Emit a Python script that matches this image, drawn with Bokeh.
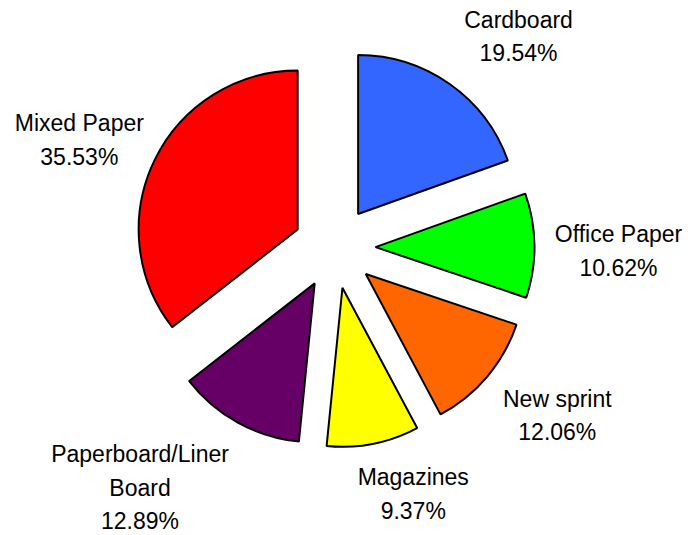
import math
from bokeh.plotting import figure
from bokeh.models import Range1d, ColumnDataSource
from bokeh.embed import file_html
from bokeh.resources import INLINE
from bokeh.core.properties import value

# ---- data ----
categories = ["Cardboard", "Office Paper", "New sprint", "Magazines",
              "Paperboard/Liner\nBoard", "Mixed Paper"]
shares = [19.54, 10.62, 12.06, 9.37, 12.89, 35.53]
colors = ["#3366FF", "#00FF00", "#FF6600", "#FFFF00", "#660066", "#FF0000"]

# ---- layout ----
W, H = 690, 535
CX, CY = 334, 535 - 247    # pie centre (data units = pixels)
R = 159                    # radius
EXPLODE = 41               # explosion distance
# label placement: distance from centre and angle (deg, clockwise from top)
label_dist = [280, 284, 279, 259, 309, 277]
label_ang = [41.1, 90.7, 127.0, 162.3, 219.0, 292.9]

total = sum(shares)
xs, ys, starts, ends = [], [], [], []
cum = 0.0
for s in shares:
    a0 = cum / total
    a1 = (cum + s) / total
    cum += s
    mid = (a0 + a1) / 2 * 2 * math.pi
    xs.append(CX + EXPLODE * math.sin(mid))
    ys.append(CY + EXPLODE * math.cos(mid))
    starts.append(math.pi / 2 - 2 * math.pi * a0)
    ends.append(math.pi / 2 - 2 * math.pi * a1)

src = ColumnDataSource(dict(x=xs, y=ys, start=starts, end=ends, color=colors))

p = figure(width=W, height=H, x_range=Range1d(0, W), y_range=Range1d(0, H),
           output_backend="svg", toolbar_location=None, min_border=0,
           x_axis_location=None, y_axis_location=None)
p.grid.visible = False
p.outline_line_color = None
p.background_fill_color = "white"
p.border_fill_color = "white"

p.wedge(x="x", y="y", radius=R, start_angle="start", end_angle="end", direction="clock",
        fill_color="color", line_color="black", line_width=2, source=src)

lx = [CX + d * math.sin(math.radians(a)) for d, a in zip(label_dist, label_ang)]
ly = [CY + d * math.cos(math.radians(a)) for d, a in zip(label_dist, label_ang)]
texts = [f"{c}\n{s:.2f}%" for c, s in zip(categories, shares)]
lsrc = ColumnDataSource(dict(x=lx, y=ly, t=texts))
p.text(x="x", y="y", text="t", source=lsrc, text_font=value("Liberation Sans"),
       text_font_size="23px", text_align="center", text_baseline="middle",
       text_line_height=1.3, text_color="black")

open("out.html", "w").write(file_html(p, INLINE))
